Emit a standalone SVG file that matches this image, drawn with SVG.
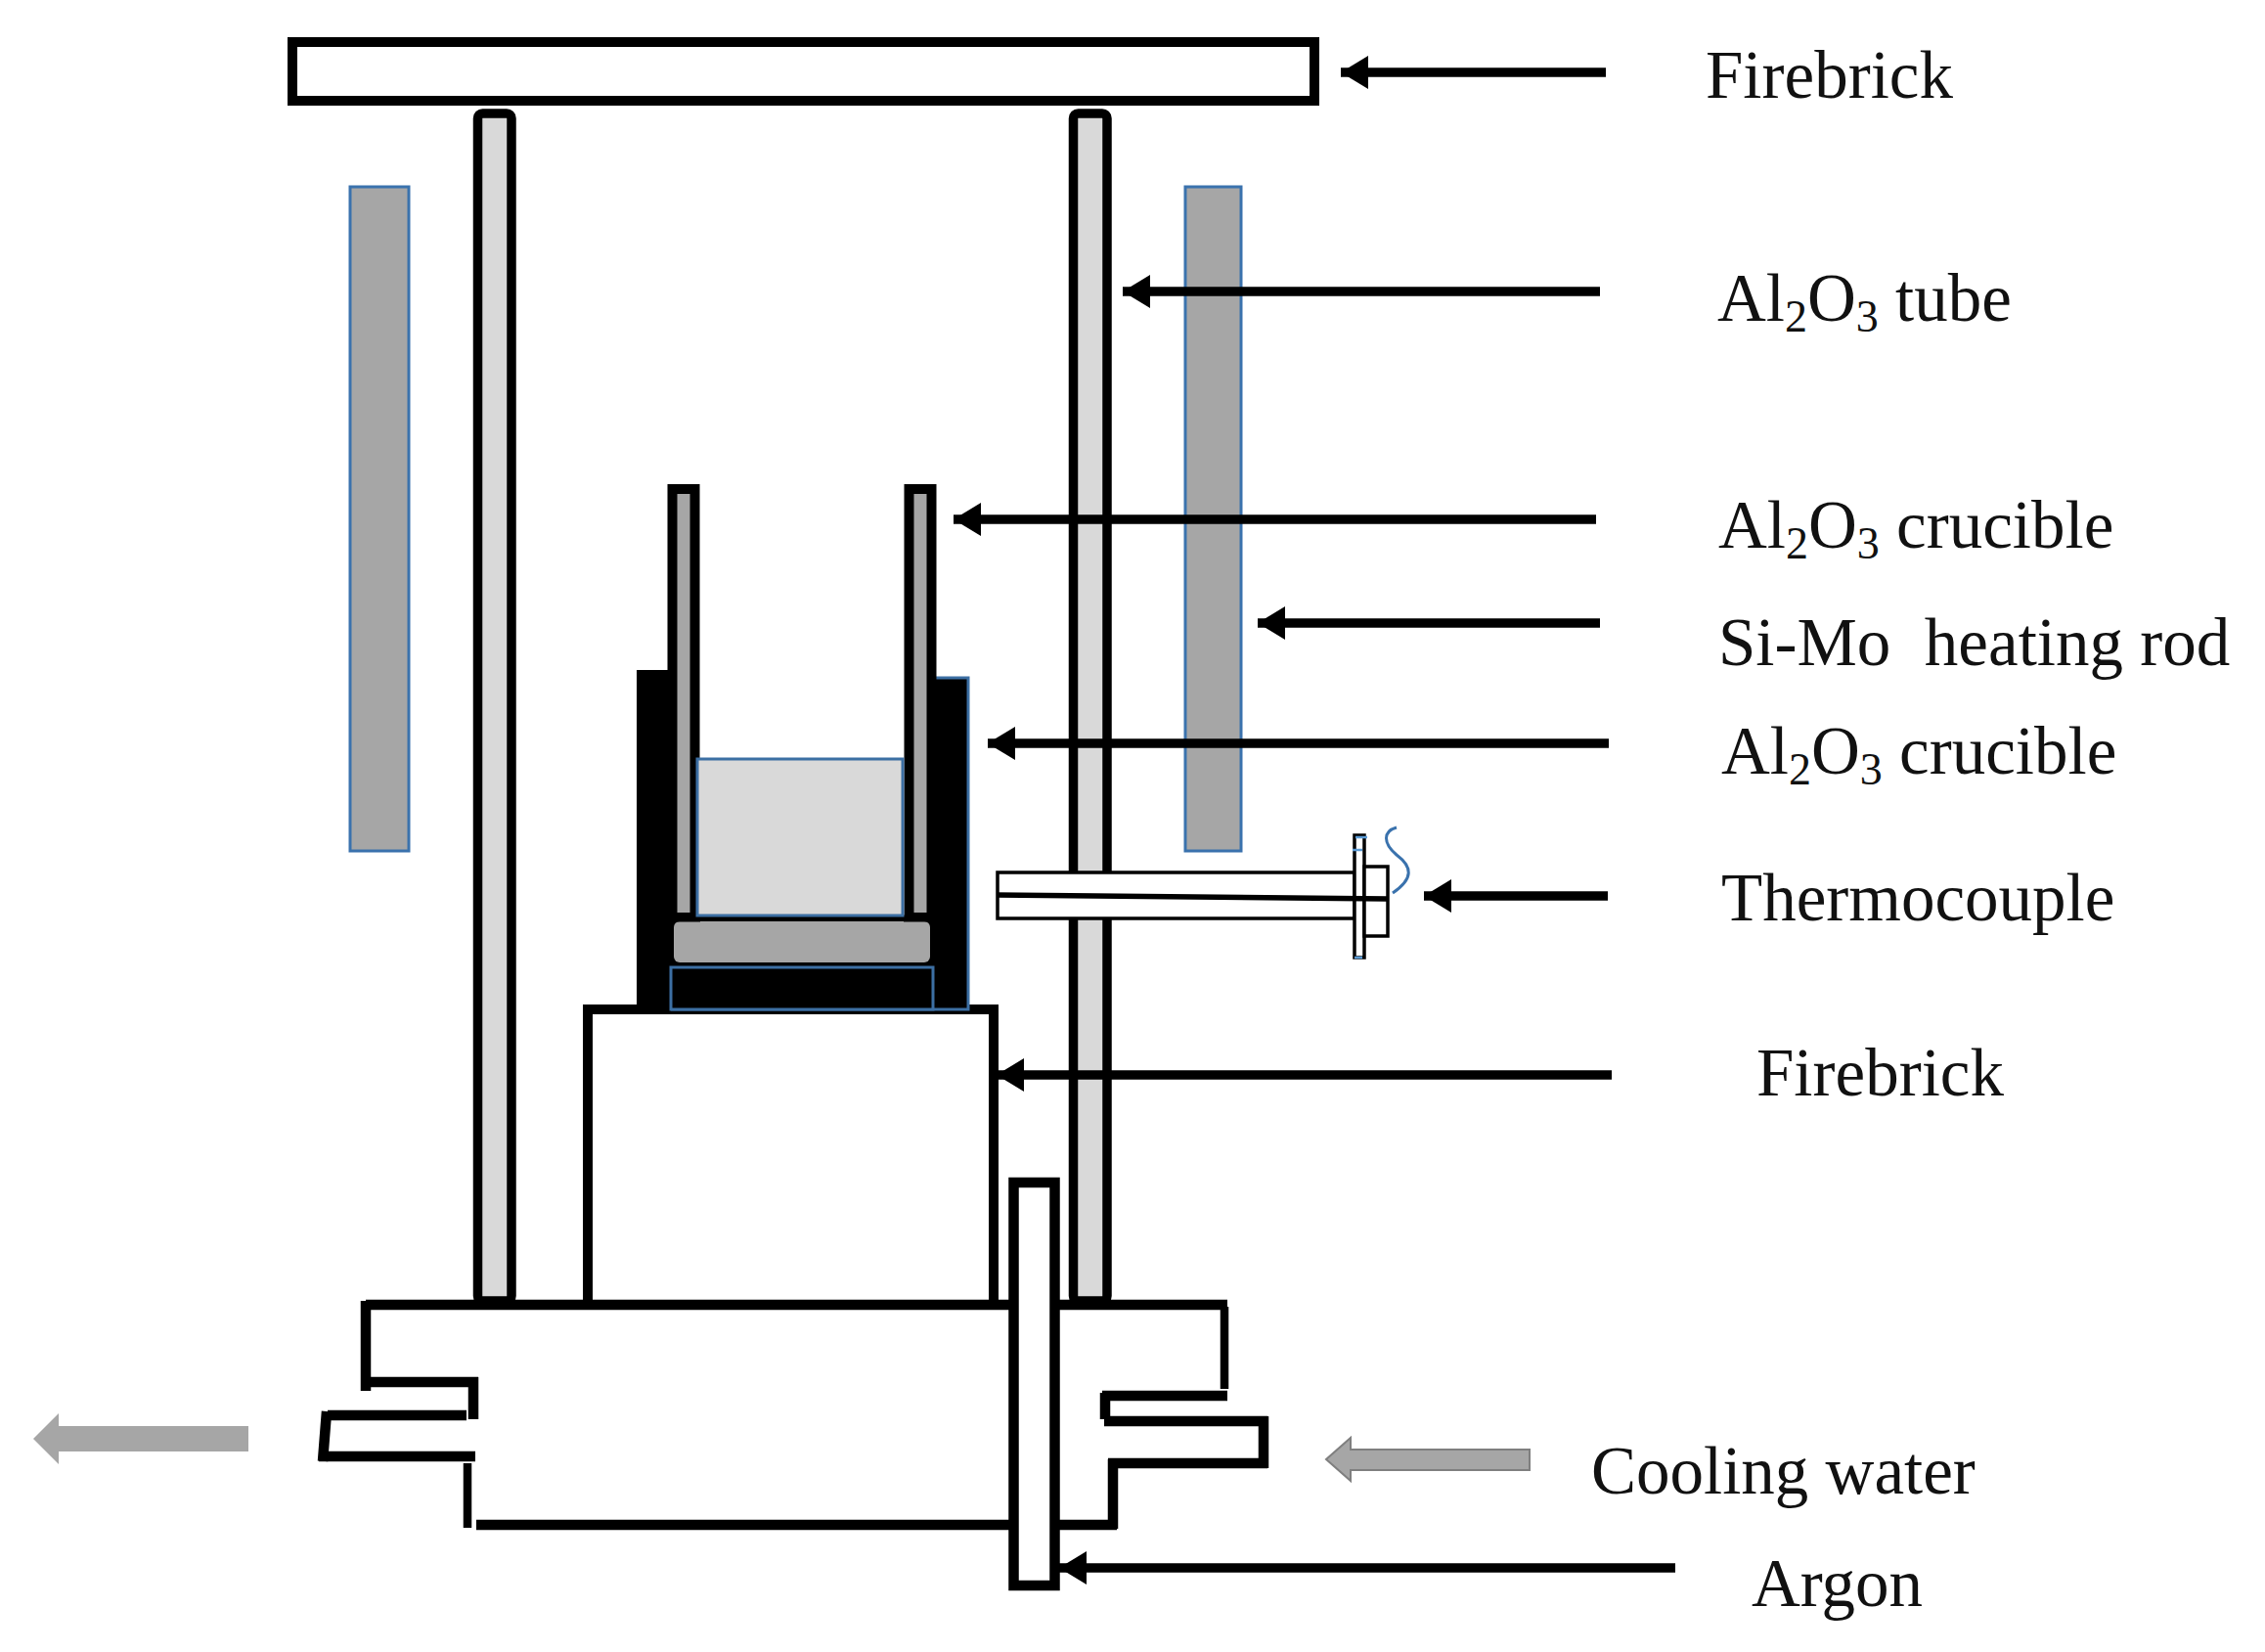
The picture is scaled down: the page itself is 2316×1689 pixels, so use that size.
<svg xmlns="http://www.w3.org/2000/svg" width="2316" height="1689" viewBox="0 0 2316 1689">
<style>
.lbl{font-family:"Liberation Serif","Times New Roman",serif;font-size:69px;fill:#111}
.sub{font-size:46px}
.rod{fill:#a6a6a6;stroke:#3a72ad;stroke-width:3}
.tube{fill:#d9d9d9;stroke:#000;stroke-width:9.500}
.wall{fill:#a6a6a6;stroke:#000;stroke-width:10}
.arr{stroke:#000;stroke-width:9.5;fill:none;marker-end:url(#ah)}
.base{stroke:#000;stroke-width:10.500;fill:none}
.tc{fill:#fff;stroke:#000;stroke-width:3.5}
.edge{fill:none;stroke:#3c6fa3;stroke-width:3}
</style>
<defs>
<marker id="ah" markerUnits="userSpaceOnUse" markerWidth="30" markerHeight="36" refX="28" refY="18" orient="auto"><path d="M0 1 L28 18 L0 35 Z" fill="#000"/></marker>
</defs>
<rect width="2316" height="1689" fill="#fff"/>
<g id="heating-rod-left"><rect class="rod" x="358" y="191" width="60" height="679"/></g>
<g id="heating-rod-right"><rect class="rod" x="1212" y="191" width="57" height="679"/></g>
<g id="tube-left"><rect class="tube" x="488.500" y="116" width="34.500" height="1214" rx="5"/></g>
<g id="tube-right"><rect class="tube" x="1097.500" y="116" width="34.500" height="1214" rx="5"/></g>
<g id="firebrick-top"><rect x="299" y="43" width="1045" height="60" fill="#fff" stroke="#000" stroke-width="10"/></g>
<g id="firebrick-bottom"><rect x="601" y="1032" width="415" height="302" fill="#fff" stroke="#000" stroke-width="10"/></g>
<g id="outer-crucible">
<path d="M651 685H690V936H950V693H990V1034H651Z" fill="#000"/>
<path class="edge" d="M955 693H990V1032H686"/>
<rect class="edge" x="686" y="989" width="268" height="43" style="fill:#000"/>
</g>
<g id="inner-crucible">
<rect class="wall" x="687.500" y="500" width="23" height="438"/>
<rect class="wall" x="929.500" y="500" width="23" height="438"/>
<rect x="689" y="942" width="262" height="42" rx="6" fill="#a6a6a6"/>
<path d="M683 939H716M924 939H957" stroke="#000" stroke-width="7" fill="none"/>
</g>
<g id="melt"><rect x="713" y="776" width="210" height="160" fill="#d9d9d9" stroke="#3c6fa3" stroke-width="3"/></g>
<g id="connectors">
<path class="arr" d="M1642 74H1371"/>
<path class="arr" d="M1636 298H1148"/>
<path class="arr" d="M1632 531H975"/>
<path class="arr" d="M1636 637H1286"/>
<path class="arr" d="M1645 760H1010"/>
<path class="arr" d="M1644 916H1456"/>
<path class="arr" d="M1648 1099H1019"/>
<path class="arr" d="M1713 1603H1083"/>
<path d="M254 1458H60V1445L34 1471L60 1497V1484H254Z" fill="#a6a6a6"/>
<path d="M1564 1482H1381V1470L1356 1492L1381 1514V1503H1564Z" fill="#a6a6a6" stroke="#7f7f7f" stroke-width="2"/>
</g>
<g id="thermocouple">
<rect class="tc" x="1020" y="892" width="365" height="47"/>
<rect class="tc" x="1385" y="854" width="10" height="125"/>
<rect class="tc" x="1395" y="886" width="24" height="71"/>
<path d="M1019 915L1419 919" stroke="#000" stroke-width="5.500" fill="none"/>
<path d="M1428 846C1414 850 1414 862 1428 874C1444 886 1446 898 1424 913" fill="none" stroke="#3a72ad" stroke-width="3"/>
<path d="M1386 856H1398M1383 869H1393M1385 979H1393" stroke="#5b9bd5" stroke-width="2.500" fill="none"/>
</g>
<g id="base">
<path class="base" d="M374 1334H1255M374 1330V1422M370 1413H489M484 1408V1451M335 1447H477M334 1443L330 1494M326 1489H486"/>
<path class="base" style="stroke-width:8.500" d="M478 1496V1562M1252 1336V1420"/>
<path class="base" d="M487 1559H1142M1127 1427H1255M1130 1424V1451M1129 1453H1296M1292 1448V1501M1133 1496H1296M1138 1492V1563"/>
</g>
<g id="argon-tube"><rect x="1036.500" y="1209" width="42" height="412" fill="#fff" stroke="#000" stroke-width="10.500"/></g>
<g id="labels">
<text class="lbl" x="1744" y="100">Firebrick</text>
<text class="lbl" x="1756" y="328">Al<tspan class="sub" dy="11">2</tspan><tspan dy="-11">O</tspan><tspan class="sub" dy="11">3</tspan><tspan dy="-11"> tube</tspan></text>
<text class="lbl" x="1757" y="560">Al<tspan class="sub" dy="11">2</tspan><tspan dy="-11">O</tspan><tspan class="sub" dy="11">3</tspan><tspan dy="-11"> crucible</tspan></text>
<text class="lbl" x="1757" y="680" xml:space="preserve">Si-Mo  heating rod</text>
<text class="lbl" x="1760" y="791">Al<tspan class="sub" dy="11">2</tspan><tspan dy="-11">O</tspan><tspan class="sub" dy="11">3</tspan><tspan dy="-11"> crucible</tspan></text>
<text class="lbl" x="1760" y="941">Thermocouple</text>
<text class="lbl" x="1796" y="1120">Firebrick</text>
<text class="lbl" x="1627" y="1527">Cooling water</text>
<text class="lbl" x="1791" y="1642">Argon</text>
</g>
</svg>
